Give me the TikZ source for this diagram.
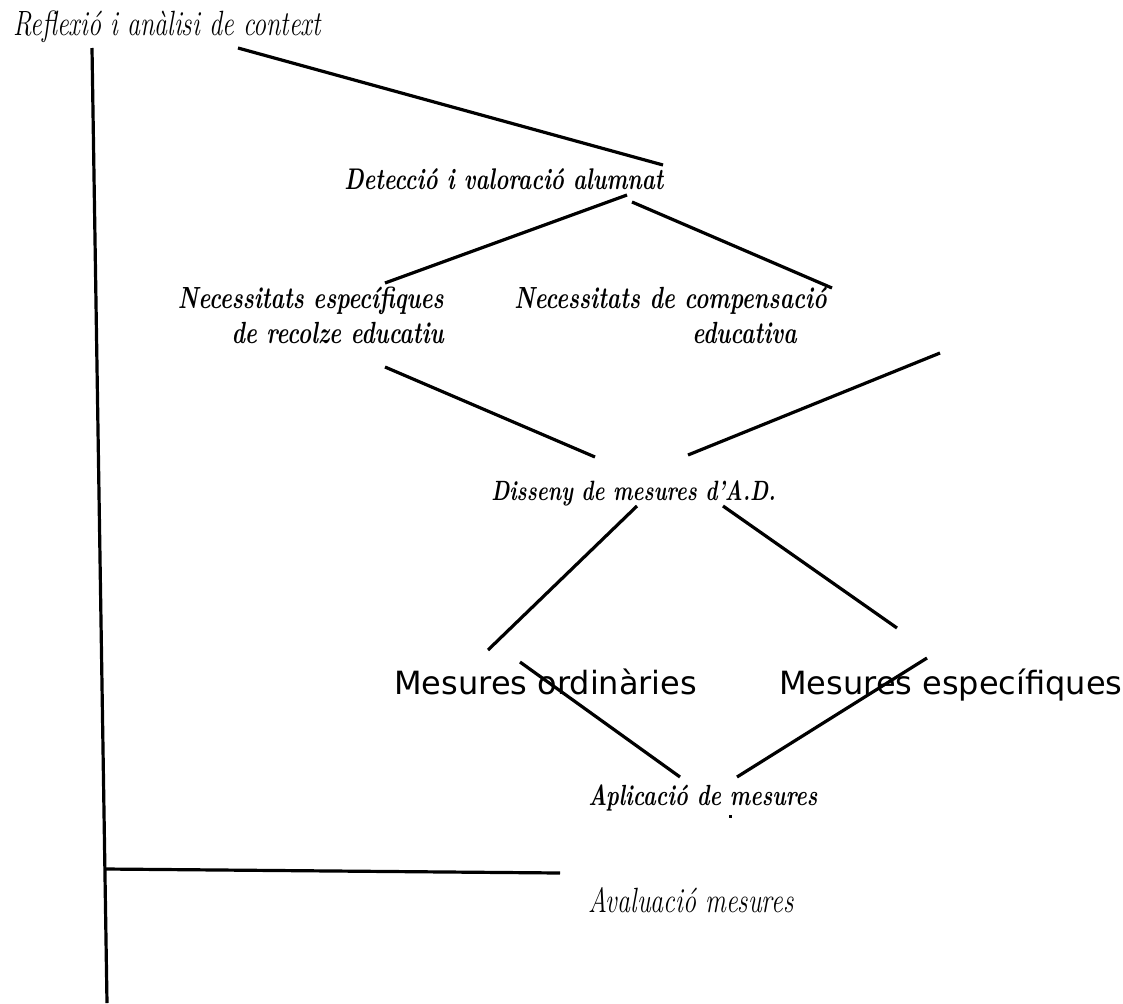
\documentclass[tikz,border=0pt]{standalone}
\usepackage{fontspec}
\newfontfamily\dvsans{DejaVu Sans}
\newcommand{\tallt}[1]{\scalebox{1}[1.35]{#1}}
\tikzset{
  txtnode/.style={anchor=base west,inner sep=0.75pt},
  txtright/.style={anchor=base east,inner sep=0.75pt},
  seg/.style={line width=2.4pt},
}

\begin{document}
\begin{tikzpicture}[x=0.75pt,y=0.75pt,yscale=-1,xscale=1]
        \useasboundingbox (0,0) rectangle (1123,1003);

        % Text Node
        \node (reflexio) [txtnode] at (12,35) {\fontsize{19.5}{22}\selectfont\itshape\tallt{Reflexió i anàlisi de context}};
        % Text Node
        \node (deteccio) [txtnode] at (343,189) {\fontsize{16.6}{20}\selectfont\bfseries\itshape\tallt{Detecció i valoració alumnat}};
        % Text Node
        \node (neesp) [txtright] at (445,308) {\fontsize{17}{20}\selectfont\bfseries\itshape\tallt{Necessitats específiques}};
        \node (neespb) [txtright] at (445,343) {\fontsize{17}{20}\selectfont\bfseries\itshape\tallt{de recolze educatiu}};
        % Text Node
        \node (necomp) [txtnode] at (513,308) {\fontsize{17}{20}\selectfont\bfseries\itshape\tallt{Necessitats de compensació}};
        \node (necompb) [txtnode] at (691,343) {\fontsize{17}{20}\selectfont\bfseries\itshape\tallt{educativa}};
        % Text Node
        \node (disseny) [txtnode] at (490,500) {\fontsize{15.5}{20}\selectfont\bfseries\itshape\tallt{Disseny de mesures d'A.D.}};
        % Text Node
        \node (mordin) [txtnode] at (393,694) {\fontsize{24}{28}\selectfont\dvsans Mesures ordinàries};
        % Text Node
        \node (mespec) [txtnode] at (778,694) {\fontsize{24}{28}\selectfont\dvsans Mesures específiques};
        % Text Node
        \node (aplicacio) [txtnode] at (587,805) {\fontsize{16.2}{20}\selectfont\bfseries\itshape\tallt{Aplicació de mesures}};
        % Text Node
        \node (avaluacio) [txtnode] at (587,912) {\fontsize{19.5}{22}\selectfont\itshape\tallt{Avaluació mesures}};

        %Line ends
        \coordinate (vtop) at (92,48);
        \coordinate (vbot) at (107,1003);
        \coordinate (hleft) at (105,869);
        \coordinate (hright) at (560,873);
        \coordinate (a1) at (238,48);    \coordinate (a2) at (663,165);
        \coordinate (b1) at (627,195);   \coordinate (b2) at (385,283);
        \coordinate (c1) at (632,202);   \coordinate (c2) at (832,288);
        \coordinate (d1) at (385,367);   \coordinate (d2) at (595,457);
        \coordinate (e1) at (940,353);   \coordinate (e2) at (688,455);
        \coordinate (f1) at (637,506);   \coordinate (f2) at (488,650);
        \coordinate (g1) at (723,506);   \coordinate (g2) at (897,628);
        \coordinate (h1) at (520,662);   \coordinate (h2) at (680,777);
        \coordinate (k1) at (927,658);   \coordinate (k2) at (737,777);

        %Straight Lines
        \draw [seg] (vtop) -- (vbot);
        \draw [seg] (hleft) -- (hright);
        \draw [seg] (a1) -- (a2);
        \draw [seg] (b1) -- (b2);
        \draw [seg] (c1) -- (c2);
        \draw [seg] (d1) -- (d2);
        \draw [seg] (e1) -- (e2);
        \draw [seg] (f1) -- (f2);
        \draw [seg] (g1) -- (g2);
        \draw [seg] (h1) -- (h2);
        \draw [seg] (k1) -- (k2);
        %Dot
        \fill (728.5,814.5) rectangle (731.5,817.5);
    \end{tikzpicture}
\end{document}
